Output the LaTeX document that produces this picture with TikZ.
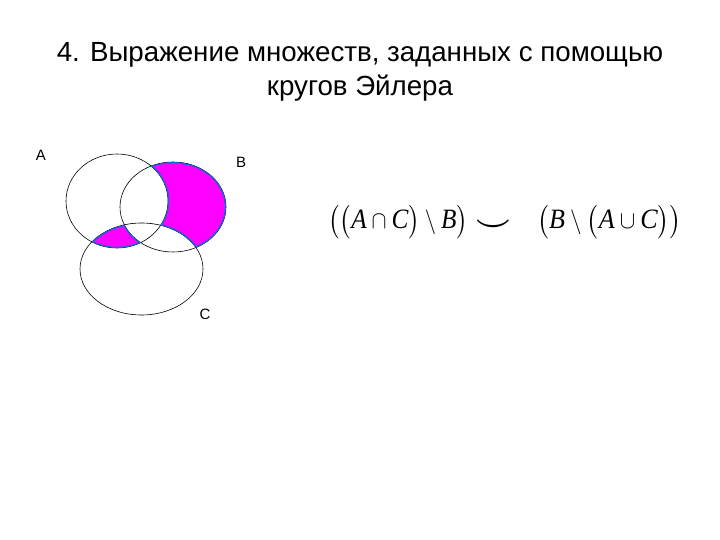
\documentclass[tikz,border=0pt]{standalone}
\usepackage{fontspec}
\setmainfont{Liberation Sans}
\newfontfamily\tms{Liberation Serif}
\usepackage{amsmath,amssymb,graphicx}
\usetikzlibrary{positioning}

\definecolor{lune}{RGB}{255,0,255}
\definecolor{rimblue}{RGB}{30,95,225}
\tikzset{
    lbl/.style={font=\fontsize{15}{17}\selectfont},
    ttl/.style={font=\fontsize{27.7}{34}\selectfont, align=center},
    frm/.style={font=\fontsize{28}{32}\selectfont, inner sep=0pt},
    rim/.style={draw=black, line width=0.6pt},
    edge/.style={draw=rimblue, line width=2.6pt},
    shade/.style={fill=lune},
}
\def\ellA{(117,201) ellipse [x radius=51, y radius=47]}
\def\ellB{(173,207) ellipse [x radius=53, y radius=45]}
\def\ellC{(141.5,269) ellipse [x radius=61.5, y radius=46]}
\def\fullarea{(-10,-10) rectangle (730,550)}
\newcommand{\vA}{\text{\tms\itshape A}}
\newcommand{\vB}{\text{\tms\itshape B}}
\newcommand{\vC}{\text{\tms\itshape C}}

\begin{document}
\begin{tikzpicture}[x=1pt, y=-1pt]
    \useasboundingbox (0,0) rectangle (720,540);
    % title
    \node[ttl, anchor=base] (title) at (360,96) {4. Выражение множеств, заданных с помощью\\кругов Эйлера};
    % shaded parts
    \fill[shade] \ellB;
    \fill[white] \ellA;
    \fill[white] \ellC;
    \begin{scope}
        \clip \ellA;
        \clip \ellC;
        \fill[shade] \ellA;
        \fill[white] \ellB;
    \end{scope}
    % circles
    \path[rim] \ellA;
    \path[rim] \ellB;
    \path[rim] \ellC;
    % borders of the shaded parts
    \begin{scope}[even odd rule]
        \clip \ellB;
        \clip \fullarea \ellA;
        \clip \fullarea \ellC;
        \path[edge] \ellA;
        \path[edge] \ellB;
        \path[edge] \ellC;
    \end{scope}
    \begin{scope}[even odd rule]
        \clip \ellA;
        \clip \ellC;
        \clip \fullarea \ellB;
        \path[edge] \ellA;
        \path[edge] \ellB;
        \path[edge] \ellC;
    \end{scope}
    % labels
    \node[lbl] (la) at (41,155) {A};
    \node[lbl] (lb) at (241,162) {B};
    \node[lbl] (lc) at (205,314) {C};
    % expression
    \node[frm, anchor=west] (left) at (328,222)
        {\scalebox{0.9}[1]{$\bigl(\bigl(\vA\cap\vC\bigr)\setminus\vB\bigr)$}};
    \node[frm] (cup) at (493,226) {\scalebox{1.25}[1.2]{$\boldsymbol{\smile}$}};
    \node[frm, anchor=west] (right) at (537,222)
        {\scalebox{0.93}[1]{$\bigl(\vB\setminus\bigl(\vA\cup\vC\bigr)\bigr)$}};
\end{tikzpicture}
\end{document}
